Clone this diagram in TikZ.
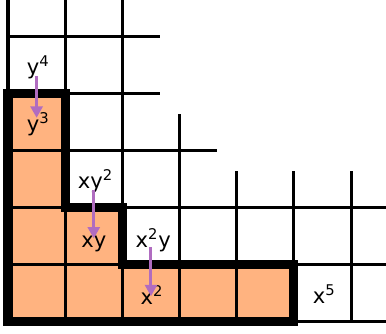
\documentclass[tikz,border=0pt]{standalone}
\usepackage{fontspec}
\setmainfont{DejaVu Sans}
\usetikzlibrary{arrows.meta}
\definecolor{cellorange}{RGB}{255,179,128}
\definecolor{arrowpurple}{RGB}{176,108,192}
\tikzset{
  gridline/.style={line width=1.5pt, black},
  outline/.style={line width=4.5pt, black, line join=miter},
  mono/.style={anchor=base, inner sep=0pt, font=\fontsize{10.5}{12}\selectfont},
  drop/.style={-{Triangle[width=0.21cm,length=0.2cm]}, line width=1.5pt, arrowpurple}
}
\begin{document}
\begin{tikzpicture}
\useasboundingbox (-0.14,-0.21) rectangle (6.61,5.63);
\clip (-0.14,-0.21) rectangle (6.61,5.63);
% orange cells
\fill[cellorange] (0,0) -- (0,4) -- (1,4) -- (1,2) -- (2,2) -- (2,1) -- (5,1) -- (5,0) -- cycle;
% grid
\foreach \x in {0,1,2} \draw[gridline] (\x,0) -- (\x,6);
\draw[gridline] (3,0) -- (3,3.64);
\foreach \x in {4,5,6} \draw[gridline] (\x,0) -- (\x,2.64);
\foreach \y in {0,1,2} \draw[gridline] (0,\y) -- (7,\y);
\draw[gridline] (0,3) -- (3.65,3);
\foreach \y in {4,5} \draw[gridline] (0,\y) -- (2.66,\y);
% staircase outline
\draw[outline] (0,0) -- (0,4) -- (1,4) -- (1,2) -- (2,2) -- (2,1) -- (5,1) -- (5,0) -- cycle;
% labels
\node[mono] (y4) at (0.53,4.32) {y\textsuperscript{4}};
\node[mono] (y3) at (0.53,3.33) {y\textsuperscript{3}};
\node[mono] (xy2) at (1.53,2.33) {xy\textsuperscript{2}};
\node[mono] (xy) at (1.5,1.30) {xy};
\node[mono] (x2y) at (2.54,1.31) {x\textsuperscript{2}y};
\node[mono] (x2) at (2.52,0.31) {x\textsuperscript{2}};
\node[mono] (x5) at (5.53,0.32) {x\textsuperscript{5}};
% arrows
\coordinate (a1s) at (0.5,4.30); \coordinate (a1e) at (0.5,3.57);
\coordinate (a2s) at (1.5,2.31); \coordinate (a2e) at (1.5,1.46);
\coordinate (a3s) at (2.5,1.31); \coordinate (a3e) at (2.5,0.45);
\draw[drop] (a1s) -- (a1e);
\draw[drop] (a2s) -- (a2e);
\draw[drop] (a3s) -- (a3e);
\end{tikzpicture}
\end{document}
